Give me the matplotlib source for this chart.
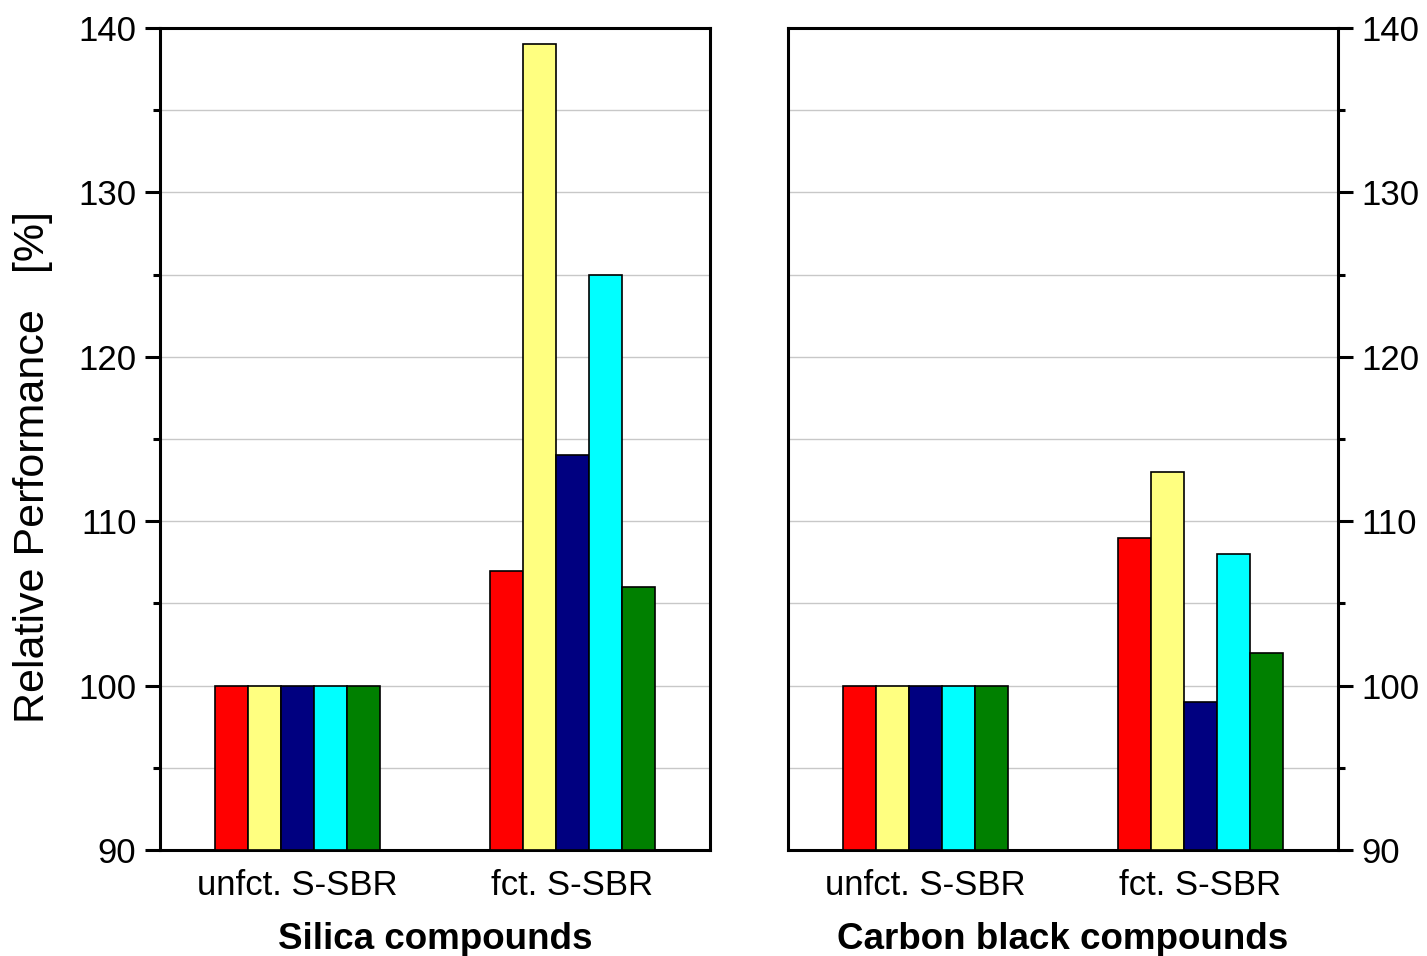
import matplotlib
matplotlib.use("Agg")
import matplotlib.pyplot as plt
import numpy as np

plt.rcParams['font.family'] = ['Liberation Sans', 'DejaVu Sans']

categories = ["unfct. S-SBR", "fct. S-SBR"]
series_colors = ["#FF0000", "#FFFF80", "#000080", "#00FFFF", "#008000"]
silica_values = [
    [100, 107],
    [100, 139],
    [100, 114],
    [100, 125],
    [100, 106],
]
carbon_values = [
    [100, 109],
    [100, 113],
    [100, 99],
    [100, 108],
    [100, 102],
]
panel_titles = ["Silica compounds", "Carbon black compounds"]
ylabel = "Relative Performance   [%]"
yticks_major = [90, 100, 110, 120, 130, 140]
yticks_minor = [95, 105, 115, 125, 135]

fig = plt.figure(figsize=(14.27, 9.56), dpi=100)
ax1 = fig.add_axes([160/1427, 1-850/956, 550/1427, 822/956])
ax2 = fig.add_axes([788/1427, 1-850/956, 550/1427, 822/956])

bw = 0.12
x = np.arange(len(categories))
for ax, vals, title in [(ax1, silica_values, panel_titles[0]), (ax2, carbon_values, panel_titles[1])]:
    for i, (v, c) in enumerate(zip(vals, series_colors)):
        off = (i - 2) * bw
        ax.bar(x + off, np.array(v) - 90, bottom=90, width=bw, color=c,
               edgecolor='black', linewidth=1.2, zorder=3)
    ax.set_xlim(-0.5, 1.5)
    ax.set_ylim(90, 140)
    ax.set_yticks(yticks_major)
    ax.set_yticks(yticks_minor, minor=True)
    ax.yaxis.grid(True, which='both', color='#C8C8C8', linewidth=1.0, zorder=0)
    ax.set_axisbelow(True)
    ax.set_xticks(x)
    ax.set_xticklabels(categories, fontsize=25)
    ax.tick_params(axis='x', length=0, pad=14)
    ax.tick_params(axis='y', which='major', length=11, width=2.2, direction='out', labelsize=25, pad=6)
    ax.tick_params(axis='y', which='minor', length=5, width=2.2, direction='out')
    for s in ax.spines.values():
        s.set_linewidth(2.2)
    ax.set_xlabel(title, fontsize=26.5, fontweight='bold', labelpad=14)

ax1.xaxis.get_ticklabels()[0].set_x(0)
fig.text(33/1427, 1-467/956, ylabel, fontsize=31, rotation=90, ha='center', va='center')
ax2.yaxis.tick_right()
ax2.tick_params(axis='y', which='both', left=False, right=True)

fig.savefig("out.png", dpi=100)
